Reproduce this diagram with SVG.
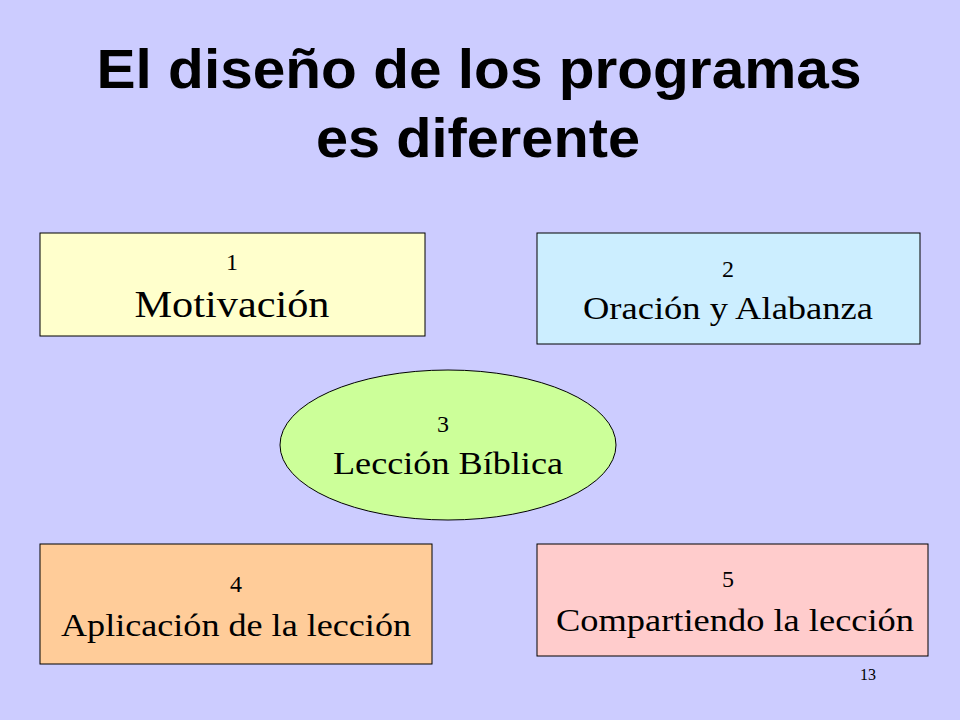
<svg xmlns="http://www.w3.org/2000/svg" width="960" height="720" viewBox="0 0 960 720">
<style>
.t{font-family:"Liberation Serif",serif;fill:#000;text-anchor:middle}
.b{stroke:#000;stroke-width:1}
.h{font-family:"Liberation Sans",sans-serif;font-weight:bold;font-size:56px;text-anchor:middle;fill:#000}
</style>
<rect width="960" height="720" fill="#ccccff"/>
<text class="h" x="479" y="88" textLength="765" lengthAdjust="spacingAndGlyphs">El diseño de los programas</text>
<text class="h" x="478" y="157" textLength="324" lengthAdjust="spacingAndGlyphs">es diferente</text>
<g id="n1"><rect class="b" x="40" y="233" width="385" height="103" fill="#ffffcc"/>
<text class="t" x="232" y="270" font-size="24">1</text><text class="t" x="232" y="317" font-size="38" textLength="195" lengthAdjust="spacingAndGlyphs">Motivación</text></g>
<g id="n2"><rect class="b" x="537" y="233" width="383" height="111" fill="#cceeff"/>
<text class="t" x="728" y="277" font-size="24">2</text><text class="t" x="728" y="319" font-size="31" textLength="290" lengthAdjust="spacingAndGlyphs">Oración y Alabanza</text></g>
<g id="n3"><ellipse class="b" cx="448" cy="445" rx="168" ry="75" fill="#ccff99"/>
<text class="t" x="443" y="432" font-size="24">3</text><text class="t" x="448" y="474" font-size="31" textLength="230" lengthAdjust="spacingAndGlyphs">Lección Bíblica</text></g>
<g id="n4"><rect class="b" x="40" y="544" width="392" height="120" fill="#ffcc99"/>
<text class="t" x="236" y="592" font-size="24">4</text><text class="t" x="236" y="636" font-size="31" textLength="350" lengthAdjust="spacingAndGlyphs">Aplicación de la lección</text></g>
<g id="n5"><rect class="b" x="537" y="544" width="391" height="112" fill="#ffcccc"/>
<text class="t" x="728" y="587" font-size="24">5</text><text class="t" x="735" y="631" font-size="31" textLength="358" lengthAdjust="spacingAndGlyphs">Compartiendo la lección</text></g>
<g id="connectors"/>
<text class="t" x="868" y="680" font-size="16">13</text>
</svg>
